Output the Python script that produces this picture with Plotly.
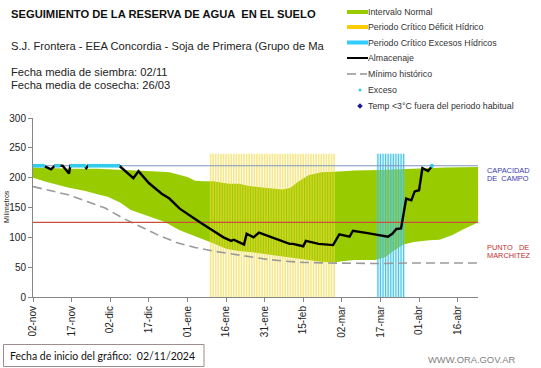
import plotly.graph_objects as go

# ---------------- DATA ----------------
# x = days since 02-nov-2024
tick_days = [0, 15, 30, 45, 60, 75, 90, 105, 120, 135, 150, 165]
tick_labels = ["02-nov", "17-nov", "02-dic", "17-dic", "01-ene", "16-ene",
               "31-ene", "15-feb", "02-mar", "17-mar", "01-abr", "16-abr"]

normal_days = [0, 5, 15, 25, 35, 45, 50, 53, 57, 60, 63, 66, 70, 73, 76, 80, 84, 90,
               97, 100, 103, 107, 112, 117, 125, 135, 145, 150, 160, 173]
normal_upper = [217, 216, 215, 215, 213, 212, 210, 209, 205, 201, 195, 194, 194, 192,
                190, 190, 186, 183, 180, 183, 193, 204, 209, 210, 212, 213, 215, 216, 217, 218]
lower_days = [0, 5, 14, 20, 25, 29, 34, 38, 45, 51, 57, 60, 64, 70, 75, 80, 85, 90, 98,
              105, 112, 117, 120, 125, 133, 137, 140, 144, 148, 154, 158, 163, 167, 173]
normal_lower = [200, 193, 183, 178, 172, 168, 158, 146, 135, 126, 112, 108, 100, 90, 81,
                77, 75, 72, 68, 63, 59, 58, 60, 62, 62, 67, 77, 88, 92, 95, 96, 104, 113, 125]

min_days = [0, 7, 14, 21, 28, 35, 42, 49, 56, 63, 70, 77, 84, 91, 98, 105, 115, 125,
            135, 145, 155, 173]
min_hist = [185, 178, 171, 160, 149, 132, 118, 103, 91, 83, 77, 72, 67, 63, 60, 58, 57,
            56, 56, 57, 57, 57]

alm_days = [0, 4, 7, 8.5, 11.5, 14, 14.5, 20, 20.7, 21.3, 33.5, 39, 41, 45, 50, 53, 57,
            61, 65, 70, 74, 77, 78, 80, 82, 83, 85.7, 87.8, 92, 96, 99.7, 101, 105, 106,
            111, 116.6, 119, 123, 124.3, 130, 137.9, 139.6, 141.2, 143, 145, 147, 148.3,
            150, 151.3, 153.5, 155]
almacenaje = [220, 220, 214, 220, 220, 207, 220, 220, 216, 220, 220, 199, 211, 191, 173,
              165, 148, 136, 125, 111, 100, 94, 96, 92, 88, 106, 100, 108, 101, 94, 89,
              89, 85, 94, 89, 87, 105, 101, 111, 107, 101, 106, 114, 115, 165, 162, 177,
              179, 216, 211, 219]

exceso_days = [0, 1, 2, 3, 4, 9, 10, 15, 16, 17, 18, 19, 20, 22, 23, 24, 25, 26, 27,
               28, 29, 30, 31, 32, 33, 155]
exceso_vals = [220] * len(exceso_days)

deficit_days = list(range(69, 118))     # Periodo Crítico Déficit Hídrico (daily marks)
excess_crit_days = list(range(134, 145))  # Periodo Crítico Excesos Hídricos
period_top = 240

capacidad_campo = 220
punto_marchitez = 125
x_end = 172.9

# ---------------- FIGURE ----------------
W, H = 541, 368
PL, PR, PT, PB = 33, 478, 118, 297


def fx(x):
    return (x - PL) / (PR - PL)


def fy(y):
    return (PB - y) / (PB - PT)


fig = go.Figure()

# green normal interval (closed polygon)
poly_x = normal_days + lower_days[::-1]
poly_y = normal_upper + normal_lower[::-1]
fig.add_trace(go.Scatter(x=poly_x, y=poly_y, mode="lines", fill="toself",
                         fillcolor="#99CC00", line=dict(width=0, color="#99CC00"),
                         name="Intervalo Normal", showlegend=False))


def vlines(days, top):
    xs, ys = [], []
    for d in days:
        xs += [d, d, None]
        ys += [0, top, None]
    return xs, ys


# critical deficit period
dx, dy = vlines(deficit_days, period_top)
fig.add_trace(go.Scatter(x=dx, y=dy, mode="lines",
                         line=dict(color="rgba(242,216,60,0.62)", width=1.6),
                         showlegend=False, hoverinfo="skip"))
# critical excess period
fig.add_trace(go.Scatter(x=[excess_crit_days[0] - 0.5, excess_crit_days[-1] + 0.5,
                            excess_crit_days[-1] + 0.5, excess_crit_days[0] - 0.5],
                         y=[0, 0, period_top, period_top], fill="toself",
                         fillcolor="rgba(140,215,240,0.30)", line=dict(width=0),
                         mode="lines", showlegend=False, hoverinfo="skip"))
ex, ey = vlines(excess_crit_days, period_top)
fig.add_trace(go.Scatter(x=ex, y=ey, mode="lines",
                         line=dict(color="rgba(50,190,230,0.85)", width=1.2),
                         showlegend=False, hoverinfo="skip"))

# minimum historic
fig.add_trace(go.Scatter(x=min_days, y=min_hist, mode="lines",
                         line=dict(color="#9a9a9a", width=1.6, dash="9px,5px"),
                         showlegend=False))
# reference lines
fig.add_trace(go.Scatter(x=[0, x_end], y=[capacidad_campo] * 2, mode="lines",
                         line=dict(color="#7f93c4", width=1.1), showlegend=False))
fig.add_trace(go.Scatter(x=[0, x_end], y=[punto_marchitez] * 2, mode="lines",
                         line=dict(color="#c8503c", width=1.1), showlegend=False))
# storage
fig.add_trace(go.Scatter(x=alm_days, y=almacenaje, mode="lines",
                         line=dict(color="black", width=2.4), showlegend=False))
# excess dots
fig.add_trace(go.Scatter(x=exceso_days, y=exceso_vals, mode="markers",
                         marker=dict(color="#33CCEE", size=4), showlegend=False))

font = "Liberation Sans, Arial, sans-serif"
ann = []
shapes = []


def text(x, y, s, size, color="#222", anchor="left", family=font, angle=0):
    ann.append(dict(x=fx(x), y=fy(y), xref="paper", yref="paper", text=s,
                    showarrow=False, xanchor=anchor, yanchor="middle",
                    textangle=angle, borderpad=0,
                    font=dict(size=size, color=color, family=family)))


text(10, 14, "<b>SEGUIMIENTO DE LA RESERVA DE AGUA  EN EL SUELO</b>", 11.2, "#111")
text(10, 46, "S.J. Frontera - EEA Concordia - Soja de Primera (Grupo de Ma", 11.2, "#222")
text(10, 72, "Fecha media de siembra: 02/11", 11.2, "#222")
text(10, 85, "Fecha media de cosecha: 26/03", 11.2, "#222")

# legend
leg_items = ["Intervalo Normal", "Periodo Crítico Déficit Hídrico",
             "Periodo Crítico Excesos Hídricos", "Almacenaje", "Mínimo histórico",
             "Exceso", "Temp <3°C fuera del periodo habitual"]
leg_y = [12, 27, 42.5, 58, 74, 90, 106]
for s, yy in zip(leg_items, leg_y):
    text(367, yy, s, 8.8, "#333")
for col, yy in zip(["#99CC00", "#FFCC00", "#33CCFF"], leg_y[:3]):
    shapes.append(dict(type="rect", xref="paper", yref="paper", x0=fx(347), x1=fx(368),
                       y0=fy(yy - 2), y1=fy(yy + 2), fillcolor=col, line=dict(width=0)))
shapes.append(dict(type="line", xref="paper", yref="paper", x0=fx(347), x1=fx(368),
                   y0=fy(58), y1=fy(58), line=dict(color="black", width=2)))
shapes.append(dict(type="line", xref="paper", yref="paper", x0=fx(347), x1=fx(356),
                   y0=fy(74), y1=fy(74), line=dict(color="#9a9a9a", width=1.6)))
shapes.append(dict(type="line", xref="paper", yref="paper", x0=fx(360), x1=fx(367),
                   y0=fy(74), y1=fy(74), line=dict(color="#9a9a9a", width=1.6)))
shapes.append(dict(type="circle", xref="paper", yref="paper", x0=fx(358.5), x1=fx(361.5),
                   y0=fy(88.5), y1=fy(91.5), fillcolor="#33CCEE", line=dict(width=0)))
cx, cy = 360, 106
shapes.append(dict(type="path", xref="paper", yref="paper",
                   path=f"M {fx(cx-2.8)} {fy(cy)} L {fx(cx)} {fy(cy-2.8)} L {fx(cx+2.8)} {fy(cy)} L {fx(cx)} {fy(cy+2.8)} Z",
                   fillcolor="#1a1a99", line=dict(width=0)))

# right labels
text(486, 170, "CAPACIDAD", 7.4, "#3a3ab0")
text(486, 178, "DE\u00a0\u00a0CAMPO", 7.4, "#3a3ab0")
text(486, 247, "PUNTO\u00a0\u00a0\u00a0DE", 7.4, "#c03030")
text(486, 255, "MARCHITEZ", 7.4, "#c03030")

# y title
text(6, 207, "Milímetros", 7, "#222", anchor="center", angle=-90)

# bottom box
shapes.append(dict(type="rect", xref="paper", yref="paper", x0=fx(3.5), x1=fx(204),
                   y0=fy(344.5), y1=fy(366.5), line=dict(color="#a08c8c", width=1),
                   fillcolor="rgba(0,0,0,0)"))
text(9, 356, "Fecha de inicio del gráfico:\u00a0\u00a002/11/2024", 10.5, "#111",
     family="Lato, Carlito, sans-serif")
text(516, 359, "WWW.ORA.GOV.AR", 9.4, "#7f7f7f", anchor="right")

fig.update_layout(
    width=W, height=H,
    margin=dict(l=PL, r=W - PR, t=PT, b=H - PB, pad=0, autoexpand=False),
    paper_bgcolor="white", plot_bgcolor="white",
    showlegend=False,
    annotations=ann, shapes=shapes,
    font=dict(family=font, size=10, color="#222"),
)
fig.update_xaxes(range=[0, x_end], tickvals=tick_days, ticktext=tick_labels,
                 tickangle=-90, showgrid=False, zeroline=False, showline=True,
                 linecolor="#868686", linewidth=1, ticks="outside", ticklen=4,
                 tickcolor="#868686", tickfont=dict(size=10, color="#222"),
                 automargin=False)
fig.update_yaxes(range=[0, 300], tickvals=[0, 50, 100, 150, 200, 250, 300],
                 showgrid=False, zeroline=False, showline=True, linecolor="#868686",
                 linewidth=1, ticks="outside", ticklen=4, tickcolor="#868686",
                 tickfont=dict(size=10, color="#222"), automargin=False)

fig.write_html("out.html", config={"displayModeBar": False},
               post_script="document.body.style.margin='0px';document.body.style.padding='0px';")
